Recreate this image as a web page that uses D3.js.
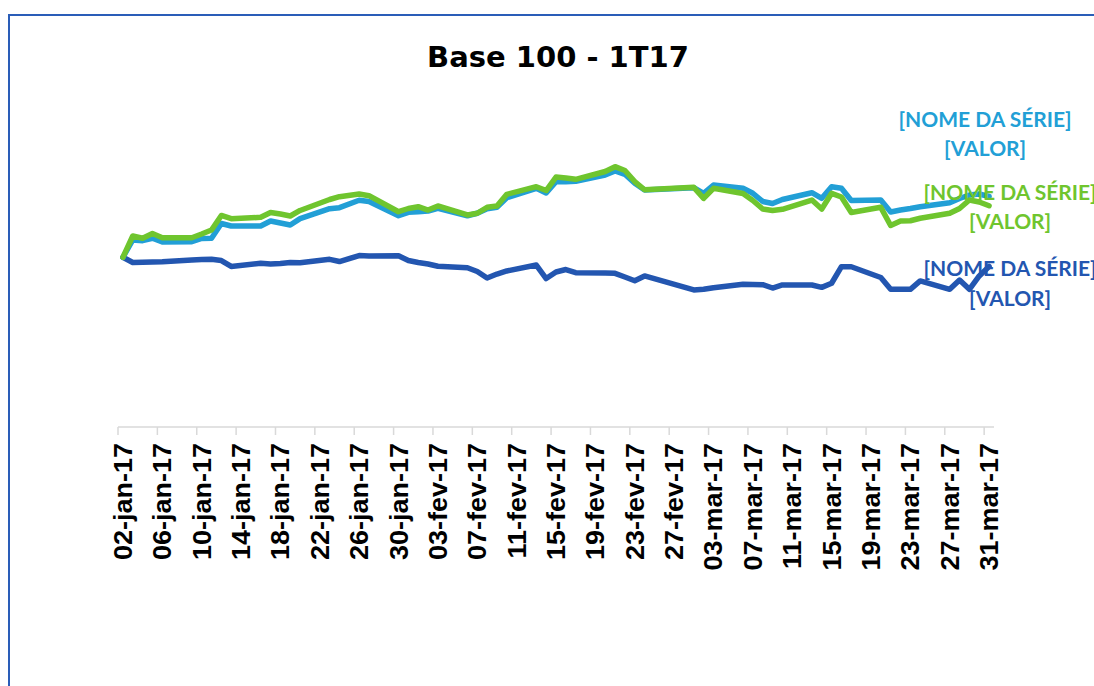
<!DOCTYPE html>
<html lang="pt">
<head>
	<meta charset="UTF-8">
	<title>Base 100 - 1T17</title>
	<script src="https://cdn.jsdelivr.net/npm/d3@7"></script>
	<style>
		html, body { margin: 0; padding: 0; background: #fff; }
		svg { display: block; }
	</style>
</head>
<body>
	<div id="vis"></div>

	<script>
		// trading days of the quarter (B3 calendar)
		var dates = [
			"2017-01-02","2017-01-03","2017-01-04","2017-01-05","2017-01-06",
			"2017-01-09","2017-01-10","2017-01-11","2017-01-12","2017-01-13",
			"2017-01-16","2017-01-17","2017-01-18","2017-01-19","2017-01-20",
			"2017-01-23","2017-01-24","2017-01-26","2017-01-27",
			"2017-01-30","2017-01-31","2017-02-01","2017-02-02","2017-02-03",
			"2017-02-06","2017-02-07","2017-02-08","2017-02-09","2017-02-10",
			"2017-02-13","2017-02-14","2017-02-15","2017-02-16","2017-02-17",
			"2017-02-20","2017-02-21","2017-02-22","2017-02-23","2017-02-24",
			"2017-03-01","2017-03-02","2017-03-03",
			"2017-03-06","2017-03-07","2017-03-08","2017-03-09","2017-03-10",
			"2017-03-13","2017-03-14","2017-03-15","2017-03-16","2017-03-17",
			"2017-03-20","2017-03-21","2017-03-22","2017-03-23","2017-03-24",
			"2017-03-27","2017-03-28","2017-03-29","2017-03-30","2017-03-31"
		];

		// light blue series
		var serieAzulClaro = [
			100.00, 102.04, 101.96, 102.24, 101.80,
			101.84, 102.22, 102.24, 103.98, 103.69,
			103.69, 104.28, 104.04, 103.81, 104.55,
			105.73, 105.85, 106.72, 106.58,
			104.90, 105.30, 105.37, 105.46, 105.77,
			104.90, 105.19, 105.73, 105.89, 107.02,
			108.13, 107.58, 108.91, 108.91, 108.95,
			109.70, 110.17, 109.78, 108.72, 107.93,
			108.20, 107.54, 108.52,
			108.13, 107.54, 106.58, 106.34, 106.81,
			107.61, 106.95, 108.32, 108.13, 106.69,
			106.75, 105.34, 105.57, 105.75, 105.96,
			106.43, 106.93, 107.34, 107.46, 107.17
		];

		// green series
		var serieVerde = [
			100.00, 102.51, 102.24, 102.80, 102.31,
			102.31, 102.75, 103.22, 104.93, 104.55,
			104.71, 105.28, 105.10, 104.87, 105.52,
			106.81, 107.14, 107.46, 107.26,
			105.37, 105.75, 105.96, 105.57, 106.05,
			104.99, 105.19, 105.89, 106.05, 107.42,
			108.32, 107.87, 109.46, 109.35, 109.19,
			110.11, 110.68, 110.23, 108.93, 107.96,
			108.25, 106.95, 108.13,
			107.52, 106.69, 105.69, 105.52, 105.66,
			106.75, 105.69, 107.54, 107.11, 105.28,
			105.89, 103.75, 104.28, 104.31, 104.60,
			105.19, 105.75, 106.75, 106.52, 106.08
		];

		// dark blue series
		var serieAzulEscuro = [
			100.00, 99.39, 99.41, 99.45, 99.48,
			99.68, 99.73, 99.76, 99.62, 98.92,
			99.29, 99.21, 99.27, 99.39, 99.36,
			99.76, 99.50, 100.21, 100.15,
			100.18, 99.62, 99.39, 99.21, 98.94,
			98.77, 98.33, 97.56, 98.03, 98.39,
			99.09, 97.50, 98.27, 98.56, 98.19,
			98.15, 98.11, 97.68, 97.24, 97.80,
			96.15, 96.23, 96.42,
			96.82, 96.79, 96.77, 96.38, 96.74,
			96.74, 96.46, 96.94, 98.89, 98.89,
			97.62, 96.23, 96.23, 96.23, 97.21,
			96.23, 97.32, 96.23, 97.80, 98.92
		];

		var monthNames = ["jan","fev","mar","abr","mai","jun","jul","ago","set","out","nov","dez"];
		var labelLines = ["[NOME DA SÉRIE]", "[VALOR]"];

		var width = 1094;
		var height = 686;

		var parse = d3.timeParse("%Y-%m-%d");
		var days = dates.map(parse);
		var start = days[0];
		var stop = d3.timeDay.offset(days[days.length - 1], 1);

		var ptLocale = d3.timeFormatLocale({
			dateTime: "%d/%m/%Y %H:%M:%S", date: "%d/%m/%Y", time: "%H:%M:%S",
			periods: ["AM", "PM"],
			days: ["domingo","segunda","terça","quarta","quinta","sexta","sábado"],
			shortDays: ["dom","seg","ter","qua","qui","sex","sáb"],
			months: monthNames, shortMonths: monthNames
		});
		var fmt = ptLocale.format("%d-%b-%y");

		var x = d3.scaleTime().domain([start, stop]).range([118, 994]);
		var y = d3.scaleLinear().domain([80, 120]).range([427, 87.6]);

		// points sit in the middle of their day
		function px(d) { return x(d3.timeHour.offset(d, 12)); }

		var svg = d3.select("#vis").append("svg")
			.attr("width", width)
			.attr("height", height);

		// outer frame (runs past the right and bottom edges)
		svg.append("rect")
			.attr("x", 9)
			.attr("y", 15)
			.attr("width", 1200)
			.attr("height", 800)
			.attr("fill", "none")
			.attr("stroke", "#2a5db8")
			.attr("stroke-width", 2);

		svg.append("text")
			.attr("x", 558)
			.attr("y", 67)
			.attr("text-anchor", "middle")
			.style("font-family", "'DejaVu Sans', Verdana, sans-serif")
			.style("font-weight", "bold")
			.style("font-size", "29px")
			.attr("fill", "#000")
			.text("Base 100 - 1T17");

		// x axis
		var tickDays = d3.timeDay.range(start, stop, 4);
		var axis = svg.append("g");
		axis.append("line")
			.attr("x1", x(start)).attr("x2", x(stop))
			.attr("y1", 427).attr("y2", 427)
			.attr("stroke", "#d9d9d9")
			.attr("stroke-width", 1.5);
		axis.selectAll(".tick").data(tickDays).enter().append("line")
			.attr("x1", function(d) { return x(d); })
			.attr("x2", function(d) { return x(d); })
			.attr("y1", 427).attr("y2", 435)
			.attr("stroke", "#d9d9d9")
			.attr("stroke-width", 1.5);
		axis.selectAll(".lbl").data(tickDays).enter().append("text")
			.attr("transform", function(d) { return "translate(" + px(d) + ",443) rotate(-90) scale(1.08,1)"; })
			.attr("text-anchor", "end")
			.attr("dy", "0.36em")
			.style("font-family", "'Liberation Sans', Arial, sans-serif")
			.style("font-weight", "bold")
			.style("font-size", "25px")
			.attr("fill", "#000")
			.text(fmt);

		var series = [
			{ values: serieAzulEscuro, color: "#2356b0", dx: 21, dy: [10, 39.5] },
			{ values: serieAzulClaro, color: "#229fd6", dx: -4, dy: [-69, -40] },
			{ values: serieVerde, color: "#6fc52e", dx: 21, dy: [-6, 23.5] }
		];

		var line = d3.line()
			.x(function(d, i) { return px(days[i]); })
			.y(function(d) { return y(d); });

		svg.selectAll(".serie").data(series).enter().append("path")
			.attr("d", function(s) { return line(s.values); })
			.attr("fill", "none")
			.attr("stroke", function(s) { return s.color; })
			.attr("stroke-width", 5.5)
			.attr("stroke-linejoin", "round")
			.attr("stroke-linecap", "round");

		// data labels at the last point
		series.forEach(function(s) {
			var n = s.values.length - 1;
			var lx = px(days[n]) + s.dx;
			var ly = y(s.values[n]);
			labelLines.forEach(function(t, k) {
				svg.append("text")
					.attr("x", lx)
					.attr("y", ly + s.dy[k])
					.attr("text-anchor", "middle")
					.style("font-family", "Lato, 'Open Sans', sans-serif")
					.style("font-weight", "bold")
					.style("font-size", "21px")
					.attr("fill", s.color)
					.text(t);
			});
		});
	</script>
</body>
</html>
